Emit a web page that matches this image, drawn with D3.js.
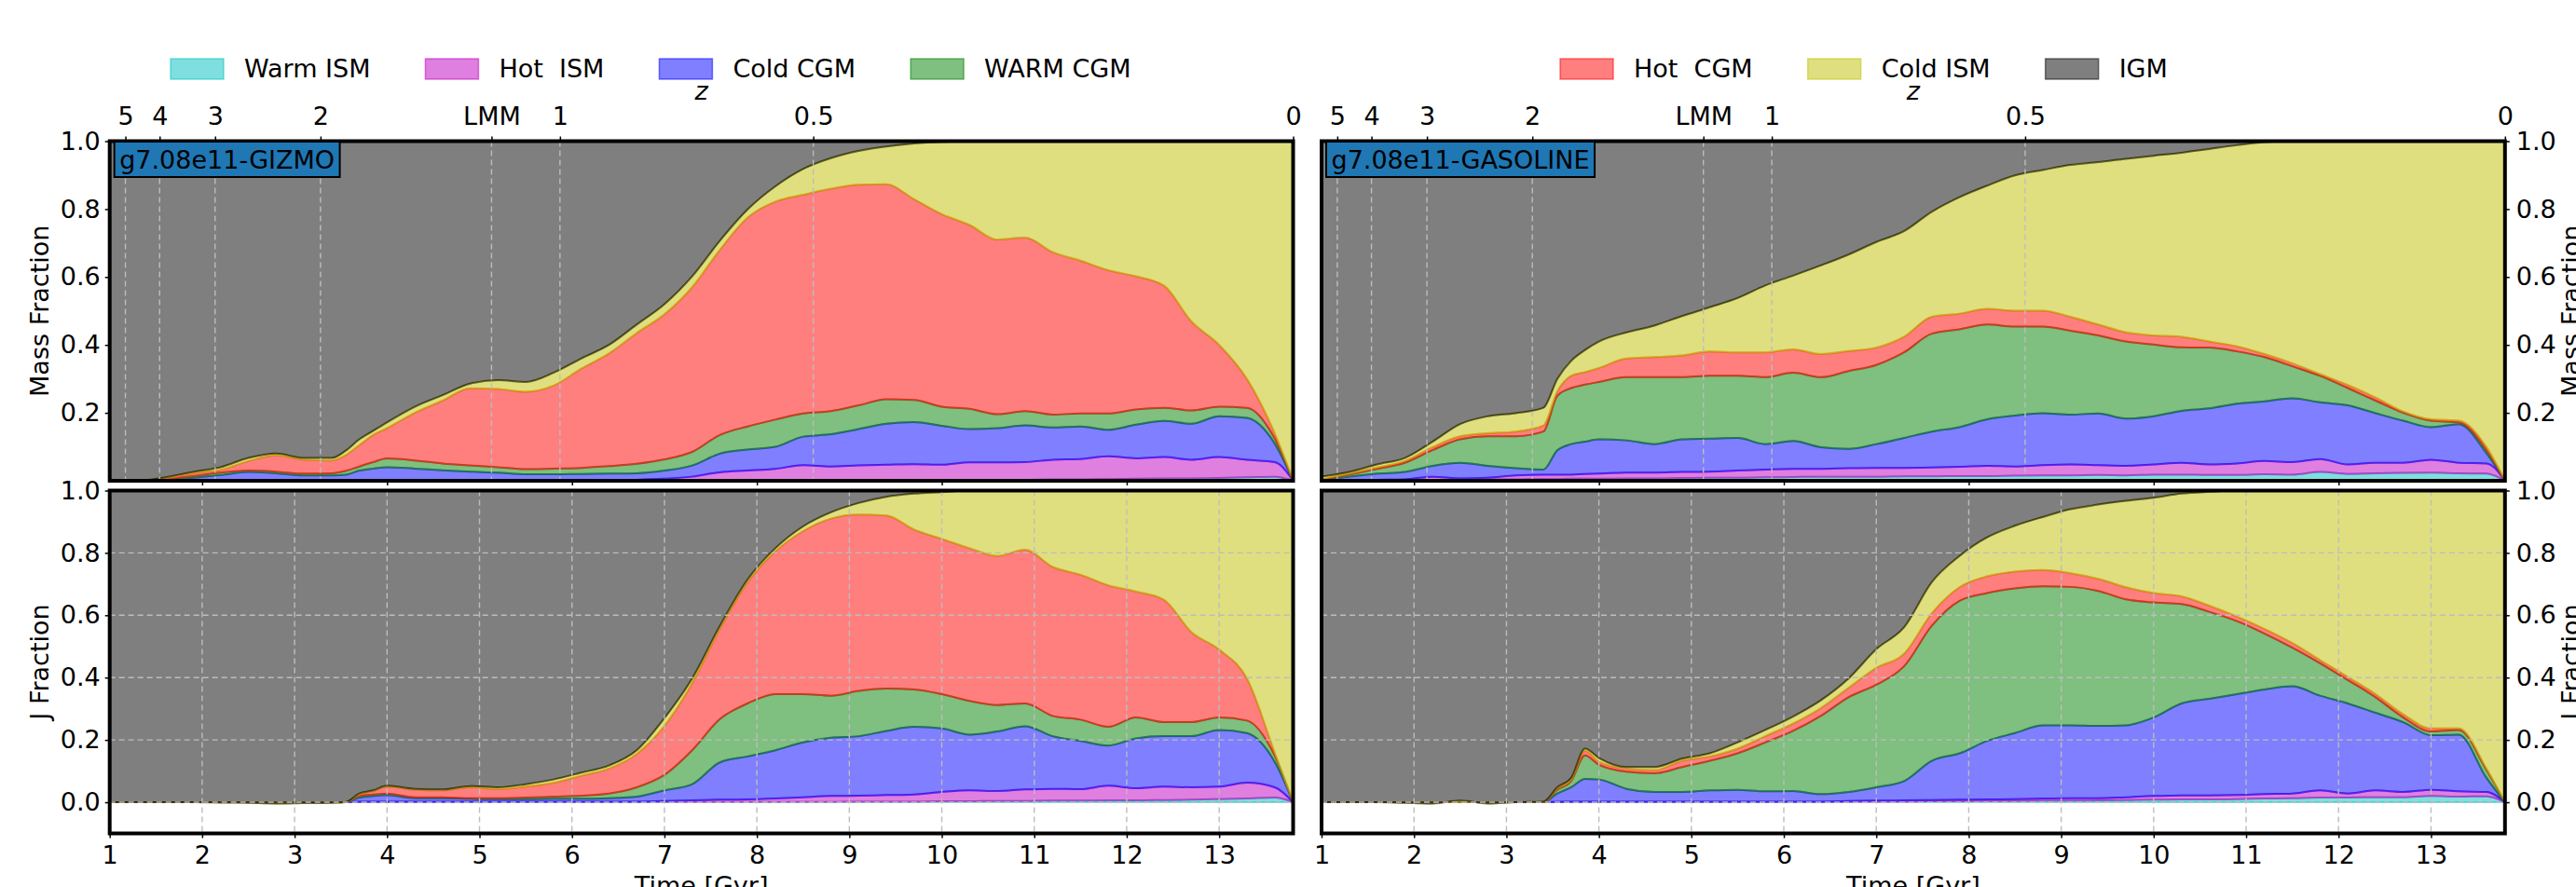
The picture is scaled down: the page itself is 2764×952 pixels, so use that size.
<!DOCTYPE html>
<html><head><meta charset="utf-8">
<script src="https://cdn.jsdelivr.net/npm/d3@7"></script>
<style>
html,body{margin:0;padding:0;background:#fff;overflow:hidden}
text{font-family:"DejaVu Sans",sans-serif}
</style></head><body>
<svg id="chart" width="2764" height="952" xmlns="http://www.w3.org/2000/svg"></svg>
<script>
// ---------------- DATA ----------------
const time = [1.0,1.3,1.6,1.9,2.2,2.5,2.8,3.1,3.4,3.55,3.7,3.85,4.0,4.3,4.6,4.9,5.2,5.5,5.8,6.1,6.4,6.7,7.0,7.3,7.6,7.9,8.2,8.5,8.8,9.1,9.4,9.7,10.0,10.3,10.6,10.9,11.2,11.5,11.8,12.1,12.4,12.7,13.0,13.3,13.6,13.8];

const seriesNames = ["Warm ISM","Hot  ISM","Cold CGM","WARM CGM","Hot  CGM","Cold ISM","IGM"];
const seriesColors = ["#00bfbf","#bf00bf","#0000ff","#008000","#ff0000","#bfbf00","#000000"];

// GIZMO, mass fraction
const gizmoMassWarmISM = [0,0,.001,.001,.001,.001,.001,.001,.001,.001,.001,.001,.001,.001,.001,.001,.001,.001,.001,.001,.001,.001,.001,.001,.002,.002,.002,.002,.002,.002,.002,.002,.002,.002,.003,.003,.004,.004,.005,.006,.007,.007,.008,.010,.012,0];
const gizmoMassHotISM  = [0,0,.001,.001,.001,.001,.001,.001,.001,.001,.001,.001,.001,.001,.001,.001,.001,.001,.001,.001,.001,.002,.005,.011,.023,.028,.033,.044,.040,.043,.045,.047,.045,.052,.051,.052,.058,.060,.067,.060,.063,.055,.062,.052,.043,0];
const gizmoMassColdCGM = [0,0,.001,.007,.015,.024,.020,.014,.014,.016,.028,.034,.038,.034,.029,.025,.022,.017,.017,.018,.019,.019,.024,.033,.055,.062,.065,.084,.095,.107,.121,.124,.115,.098,.101,.108,.095,.096,.078,.099,.106,.106,.120,.123,.055,0];
const gizmoMassWarmCGM = [0,0,.002,.005,.007,.004,.005,.005,.006,.011,.012,.019,.026,.024,.020,.018,.016,.015,.017,.018,.022,.028,.033,.040,.055,.068,.080,.068,.068,.070,.072,.065,.056,.060,.041,.042,.038,.038,.048,.045,.039,.039,.028,.030,.015,0];
const gizmoMassHotCGM  = [0,0,.003,.008,.008,.028,.048,.041,.038,.046,.063,.080,.089,.140,.185,.227,.230,.228,.244,.292,.332,.385,.427,.485,.545,.615,.642,.644,.655,.650,.633,.591,.567,.541,.514,.511,.478,.450,.422,.392,.360,.262,.182,.085,.015,0];
const gizmoMassColdISM = [0,0,.002,.004,.008,.009,.005,.005,.007,.013,.017,.012,.017,.018,.016,.014,.026,.029,.038,.030,.025,.025,.030,.032,.027,.024,.045,.076,.090,.099,.111,.164,.213,.247,.290,.284,.327,.352,.380,.398,.425,.531,.600,.700,.860,1];
const gizmoMassIGM     = [1,1,.990,.974,.960,.933,.920,.933,.933,.912,.878,.853,.828,.782,.748,.714,.704,.709,.682,.640,.600,.540,.480,.398,.293,.201,.133,.082,.050,.029,.016,.007,.002,0,0,0,0,0,0,0,0,0,0,0,0,0];

// GIZMO, J fraction
const gizmoJWarmISM = [0,0,0,0,0,0,0,0,0,0,.001,.001,.001,.001,.001,.001,.001,.001,.001,.001,.001,.001,.001,.001,.001,.001,.001,.001,.001,.002,.002,.002,.003,.003,.004,.004,.005,.005,.006,.006,.007,.008,.010,.012,.015,0];
const gizmoJHotISM  = [0,0,0,0,0,0,0,0,0,0,.001,.001,.001,.001,.001,.001,.001,.001,.001,.001,.001,.001,.003,.005,.007,.008,.011,.015,.019,.019,.021,.023,.030,.035,.032,.037,.038,.037,.047,.039,.043,.040,.040,.051,.033,0];
const gizmoJColdCGM = [0,0,0,0,0,0,0,0,0,0,.013,.018,.021,.011,.011,.009,.008,.008,.009,.009,.011,.016,.034,.052,.120,.138,.155,.176,.187,.191,.206,.217,.204,.179,.191,.203,.169,.155,.129,.160,.162,.164,.182,.159,.082,0];
const gizmoJWarmCGM = [0,0,0,0,0,0,0,0,0,0,.005,.005,.005,.003,.003,.002,.003,.005,.007,.010,.015,.030,.050,.109,.139,.170,.180,.155,.135,.145,.136,.120,.110,.108,.085,.073,.065,.068,.060,.067,.045,.045,.040,.040,.020,0];
const gizmoJHotCGM  = [0,0,0,0,0,0,0,0,0,0,.005,.010,.022,.024,.022,.035,.029,.035,.044,.064,.080,.107,.157,.215,.289,.389,.458,.523,.568,.566,.555,.513,.498,.490,.478,.493,.478,.465,.454,.404,.393,.289,.218,.135,.010,0];
const gizmoJColdISM = [0,0,0,0,-.001,-.002,-.004,-.003,-.002,0,.003,.003,.003,.003,.003,.004,.006,.008,.011,.010,.010,.012,.025,.015,.010,.009,.010,.015,.020,.037,.060,.115,.150,.185,.210,.190,.245,.270,.304,.324,.350,.454,.510,.603,.840,1];
const gizmoJIGM     = [1,1,1,1,1.001,1.002,1.004,1.003,1.002,1,.972,.962,.947,.957,.959,.948,.952,.942,.927,.905,.882,.833,.730,.603,.434,.285,.185,.115,.070,.040,.020,.010,.005,0,0,0,0,0,0,0,0,0,0,0,0,0];

// GASOLINE, mass fraction
const gasolineMassWarmISM = [0,0,.001,.001,.003,.003,.004,.004,.005,.005,.006,.006,.006,.007,.007,.008,.009,.009,.010,.011,.012,.012,.012,.013,.013,.014,.014,.015,.016,.016,.017,.016,.018,.018,.017,.017,.019,.018,.026,.020,.022,.023,.024,.022,.021,0];
const gasolineMassHotISM  = [.001,.002,.002,.003,.009,.004,.005,.012,.013,.013,.012,.014,.015,.017,.017,.018,.018,.021,.023,.024,.023,.025,.026,.025,.026,.027,.030,.027,.030,.032,.029,.028,.030,.035,.031,.034,.039,.037,.038,.028,.031,.030,.038,.031,.030,0];
const gasolineMassColdCGM = [.001,.010,.018,.022,.032,.046,.035,.021,.015,.072,.090,.095,.101,.095,.084,.096,.097,.096,.075,.082,.064,.057,.070,.088,.106,.117,.137,.150,.153,.147,.152,.139,.142,.153,.165,.176,.176,.188,.167,.174,.146,.124,.096,.114,.030,0];
const gasolineMassWarmCGM = [.002,.006,.014,.027,.046,.069,.087,.094,.112,.160,.165,.168,.169,.186,.197,.183,.185,.183,.197,.201,.206,.229,.233,.252,.288,.288,.279,.262,.255,.247,.230,.227,.211,.187,.179,.154,.130,.094,.078,.051,.037,.023,.019,.005,.009,0];
const gasolineMassHotCGM  = [.001,.003,.004,.005,.009,.009,.009,.014,.018,.013,.036,.037,.041,.055,.059,.064,.072,.069,.073,.069,.068,.059,.051,.046,.050,.046,.046,.047,.047,.041,.032,.027,.027,.031,.018,.015,.009,.009,.005,.009,.009,.004,.004,.005,.009,0];
const gasolineMassColdISM = [.007,.005,.009,.009,.016,.036,.050,.054,.052,.037,.044,.065,.078,.077,.093,.116,.130,.160,.197,.217,.261,.284,.311,.311,.309,.343,.363,.398,.414,.447,.478,.511,.529,.542,.567,.592,.624,.654,.686,.718,.755,.796,.819,.823,.901,1];
const gasolineMassIGM     = [.988,.974,.952,.933,.885,.833,.810,.801,.785,.700,.647,.615,.590,.563,.543,.515,.489,.462,.425,.396,.366,.334,.297,.265,.208,.165,.131,.101,.085,.070,.062,.052,.043,.034,.023,.012,.003,0,0,0,0,0,0,0,0,0];

// GASOLINE, J fraction
const gasolineJWarmISM = [0,0,0,0,0,0,0,0,0,0,.001,.001,.001,.001,.001,.001,.001,.001,.001,.001,.001,.001,.002,.002,.003,.003,.004,.004,.005,.005,.006,.007,.008,.009,.009,.010,.012,.013,.015,.015,.016,.016,.020,.018,.019,0];
const gasolineJHotISM  = [0,0,0,0,0,0,0,0,0,.001,.001,.001,.001,.001,.001,.001,.001,.001,.001,.001,.001,.003,.003,.004,.004,.005,.005,.006,.007,.008,.007,.009,.012,.013,.013,.013,.014,.015,.023,.013,.022,.017,.020,.017,.014,0];
const gasolineJColdCGM = [0,0,0,0,0,0,0,0,0,.027,.046,.073,.071,.041,.031,.031,.036,.038,.033,.034,.024,.029,.043,.062,.126,.149,.188,.212,.235,.234,.232,.231,.252,.295,.310,.324,.336,.344,.304,.289,.249,.224,.175,.182,.045,0];
const gasolineJWarmCGM = [0,0,0,0,0,0,0,0,0,.012,.020,.075,.047,.055,.060,.080,.095,.117,.157,.193,.251,.304,.329,.368,.433,.489,.474,.464,.446,.444,.433,.404,.369,.319,.279,.234,.179,.124,.104,.075,.050,.015,.012,.015,.025,0];
const gasolineJHotCGM  = [0,0,0,0,0,0,0,0,0,.004,.004,.015,.010,.010,.010,.020,.014,.015,.020,.023,.025,.030,.054,.040,.040,.044,.054,.054,.052,.044,.039,.039,.030,.025,.020,.015,.015,.015,.010,.010,.010,.010,.010,.005,.005,0];
const gasolineJColdISM = [0,0,0,-.002,-.004,.005,-.004,0,.002,.004,.006,.007,.012,.005,.010,.007,.010,.020,.020,.023,.025,.030,.060,.085,.100,.100,.125,.147,.170,.205,.238,.277,.306,.329,.365,.404,.444,.489,.544,.598,.653,.718,.763,.763,.892,1];
const gasolineJIGM     = [1,1,1,1.002,1.004,.995,1.004,1,.998,.952,.922,.828,.858,.887,.887,.860,.843,.808,.768,.725,.673,.603,.509,.439,.294,.210,.150,.113,.085,.060,.045,.033,.023,.010,.004,0,0,0,0,0,0,0,0,0,0,0];

// redshift axis (top), placed at cosmic time
const zTickLabels = ["5","4","3","2","LMM","1","0.5","0"];
const zTickTimes  = [1.17,1.54,2.14,3.28,5.13,5.87,8.61,13.8];
const timeTicks = [1,2,3,4,5,6,7,8,9,10,11,12,13];
const timeTicksTopPanel = [2,4,6,8,10,12];
const massTicks = [0.2,0.4,0.6,0.8,1.0];
const jTicks = [0.0,0.2,0.4,0.6,0.8,1.0];
const jGrid = [0.0,0.2,0.4,0.6,0.8];

// ---------------- LAYOUT ----------------
const FS = 27;
const svg = d3.select("#chart");
const xRangeLeft = [117.7, 1387.5];
const colShift = 1300.3;
const yMassRange = [516, 151.5];
const yJRange = [894.5, 526.5];

const panels = [
  {col:0, kind:"mass", label:"g7.08e11-GIZMO", ylabel:"Mass Fraction",
   data:[gizmoMassWarmISM,gizmoMassHotISM,gizmoMassColdCGM,gizmoMassWarmCGM,gizmoMassHotCGM,gizmoMassColdISM,gizmoMassIGM]},
  {col:0, kind:"j", ylabel:"J Fraction",
   data:[gizmoJWarmISM,gizmoJHotISM,gizmoJColdCGM,gizmoJWarmCGM,gizmoJHotCGM,gizmoJColdISM,gizmoJIGM]},
  {col:1, kind:"mass", label:"g7.08e11-GASOLINE", ylabel:"Mass Fraction",
   data:[gasolineMassWarmISM,gasolineMassHotISM,gasolineMassColdCGM,gasolineMassWarmCGM,gasolineMassHotCGM,gasolineMassColdISM,gasolineMassIGM]},
  {col:1, kind:"j", ylabel:"J Fraction",
   data:[gasolineJWarmISM,gasolineJHotISM,gasolineJColdCGM,gasolineJWarmCGM,gasolineJHotCGM,gasolineJColdISM,gasolineJIGM]}
];

const defs = svg.append("defs");

function styleAxis(g){
  g.select(".domain").remove();
  g.selectAll(".tick line").attr("stroke","#000").attr("stroke-width",1.5);
  g.selectAll(".tick text").attr("font-size",FS).attr("font-family","DejaVu Sans").attr("fill","#000");
  g.attr("font-size",FS).attr("font-family","DejaVu Sans");
}

panels.forEach((p,pi)=>{
  const off = p.col===0 ? 0 : colShift;
  const x = d3.scaleLinear().domain([1,13.8]).range([xRangeLeft[0]+off, xRangeLeft[1]+off]);
  const y = p.kind==="mass" ? d3.scaleLinear().domain([0,1]).range(yMassRange)
                            : d3.scaleLinear().domain([-0.1,1]).range(yJRange);
  const [xl,xr] = x.range();
  const yb = y.range()[0], yt = y.range()[1];

  const clipId = "clip"+pi;
  defs.append("clipPath").attr("id",clipId).append("rect")
      .attr("x",xl).attr("y",yt).attr("width",xr-xl).attr("height",yb-yt);

  const rows = time.map((t,i)=>{const r={t:t}; seriesNames.forEach((n,k)=>{r[n]=p.data[k][i];}); return r;});
  const stacked = d3.stack().keys(seriesNames)(rows);
  const area = d3.area().curve(d3.curveMonotoneX)
      .x(d=>x(d.data.t)).y0(d=>y(d[0])).y1(d=>y(d[1]));

  const g = svg.append("g").attr("clip-path",`url(#${clipId})`);
  g.selectAll("path.layer").data(stacked).enter().append("path")
    .attr("class","layer")
    .attr("d",area)
    .attr("fill",(d,i)=>seriesColors[i]).attr("fill-opacity",0.5)
    .attr("stroke",(d,i)=>seriesColors[i]).attr("stroke-opacity",0.5)
    .attr("stroke-width",2).attr("stroke-linejoin","round");

  // grid
  const grid = g.append("g").attr("stroke","#bdbdbd").attr("stroke-width",1.4)
      .attr("stroke-dasharray","6,4").attr("fill","none");
  if(p.kind==="mass"){
    grid.selectAll("line.v").data(zTickTimes.filter(t=>t<13.8)).enter().append("line")
      .attr("x1",d=>x(d)).attr("x2",d=>x(d)).attr("y1",yt).attr("y2",yb);
  } else {
    grid.selectAll("line.v").data(timeTicks.filter(t=>t>1)).enter().append("line")
      .attr("x1",d=>x(d)).attr("x2",d=>x(d)).attr("y1",yt).attr("y2",yb);
    grid.selectAll("line.h").data(jGrid).enter().append("line")
      .attr("x1",xl).attr("x2",xr).attr("y1",d=>y(d)).attr("y2",d=>y(d));
  }

  // axes
  if(p.col===0){
    const ay = svg.append("g").attr("transform",`translate(${xl},0)`)
      .call(d3.axisLeft(y).tickValues(p.kind==="mass"?massTicks:jTicks).tickSize(5).tickPadding(5).tickFormat(d3.format(".1f")));
    styleAxis(ay);
  } else {
    const ay = svg.append("g").attr("transform",`translate(${xr},0)`)
      .call(d3.axisRight(y).tickValues(p.kind==="mass"?massTicks:jTicks).tickSize(5).tickPadding(7).tickFormat(d3.format(".1f")));
    styleAxis(ay);
  }
  if(p.kind==="mass"){
    const az = svg.append("g").attr("transform",`translate(0,${yt})`)
      .call(d3.axisTop(x).tickValues(zTickTimes).tickSize(5).tickPadding(13).tickFormat((d,i)=>zTickLabels[i]));
    styleAxis(az);
    const ab = svg.append("g").attr("transform",`translate(0,${yb})`)
      .call(d3.axisBottom(x).tickValues(timeTicksTopPanel).tickSize(5).tickFormat(""));
    styleAxis(ab);
    svg.append("text").attr("x",(xl+xr)/2).attr("y",106.5).attr("text-anchor","middle")
      .attr("font-size",FS).attr("font-style","italic").text("z");
  } else {
    const ab = svg.append("g").attr("transform",`translate(0,${yb})`)
      .call(d3.axisBottom(x).tickValues(timeTicks).tickSize(5).tickPadding(8).tickFormat(d3.format("d")));
    styleAxis(ab);
    svg.append("text").attr("x",(xl+xr)/2).attr("y",960).attr("text-anchor","middle")
      .attr("font-size",FS).text("Time [Gyr]");
  }

  // y label
  const lx = p.col===0 ? 52 : 2768;
  svg.append("text").attr("transform",`translate(${lx},${(yt+yb)/2}) rotate(-90)`)
    .attr("text-anchor","middle").attr("font-size",FS).text(p.ylabel);

  // frame
  svg.append("rect").attr("x",xl).attr("y",yt).attr("width",xr-xl).attr("height",yb-yt)
    .attr("fill","none").attr("stroke","#000").attr("stroke-width",4);

  // label box
  if(p.label){
    const bg = svg.append("g");
    const r = bg.append("rect");
    const t = bg.append("text").attr("x",xl+10.5).attr("y",yt+29).attr("font-size",FS).attr("fill","#000").text(p.label);
    const bb = t.node().getBBox();
    r.attr("x",bb.x-5.5).attr("y",bb.y-3.5).attr("width",bb.width+11).attr("height",bb.height+7)
     .attr("fill","#1f77b4").attr("stroke","#000").attr("stroke-width",2);
  }
});

// legends
function legend(startX, idxs){
  let cx = startX;
  idxs.forEach(i=>{
    svg.append("rect").attr("x",cx).attr("y",63).attr("width",57).attr("height",22)
      .attr("fill",seriesColors[i]).attr("fill-opacity",0.5)
      .attr("stroke",seriesColors[i]).attr("stroke-opacity",0.5).attr("stroke-width",1.5);
    const t = svg.append("text").attr("x",cx+79).attr("y",83).attr("font-size",FS)
      .attr("xml:space","preserve").style("white-space","pre").text(seriesNames[i]);
    cx += 79 + t.node().getComputedTextLength() + 59;
  });
}
legend(183,[0,1,2,3]);
legend(1674,[4,5,6]);
</script>
</body></html>
